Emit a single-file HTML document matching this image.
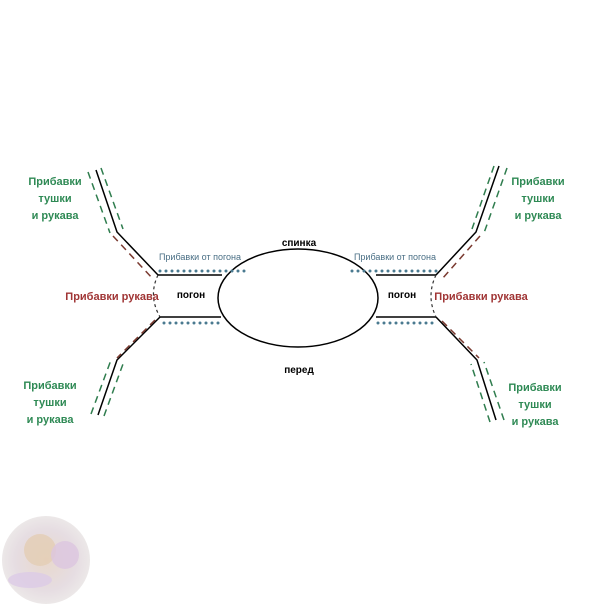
<!DOCTYPE html>
<html><head><meta charset="utf-8"><style>
body{margin:0;background:#fff}
svg{display:block}
text{font-family:"Liberation Sans",sans-serif;font-weight:bold;text-anchor:middle}
</style></head><body>
<svg width="604" height="604" viewBox="0 0 604 604">
<defs><radialGradient id="g" cx="0.5" cy="0.5" r="0.5">
<stop offset="0" stop-color="#e8d8cc"/><stop offset="0.7" stop-color="#e6dde2"/><stop offset="1" stop-color="#ece8e8"/></radialGradient></defs>
<circle cx="46" cy="560" r="44" fill="url(#g)"/>
<circle cx="40" cy="550" r="16" fill="#e3cdb4" opacity="0.8"/>
<circle cx="65" cy="555" r="14" fill="#dcc6e0" opacity="0.8"/>
<ellipse cx="30" cy="580" rx="22" ry="8" fill="#dccbe6" opacity="0.8"/>
<ellipse cx="298" cy="298" rx="80" ry="49" fill="none" stroke="#000" stroke-width="1.5"/>
<g stroke="#000" stroke-width="1.5" fill="none">
<line x1="158" y1="275" x2="222" y2="275"/>
<line x1="160" y1="317" x2="221" y2="317"/>
<line x1="376" y1="275" x2="436" y2="275"/>
<line x1="376" y1="317" x2="436" y2="317"/>
<polyline points="96,170 117,232 158,275"/>
<polyline points="160,317 117,360 98,415"/>
<polyline points="499,166 476,232 436,275"/>
<polyline points="436,317 477,360 496,420"/>
</g>
<g stroke="#333" stroke-width="1.2" fill="none" stroke-dasharray="3,3">
<path d="M158 275 Q148 296 160 317"/>
<path d="M436 275 Q426 296 436 317"/>
</g>
<g stroke="#4a7a90" stroke-width="3" stroke-dasharray="0,6" stroke-linecap="round" fill="none">
<line x1="160" y1="271" x2="245" y2="271"/>
<line x1="164" y1="323" x2="220" y2="323"/>
<line x1="352" y1="271" x2="437" y2="271"/>
<line x1="378" y1="323" x2="437" y2="323"/>
</g>
<g stroke="#2f7d4e" stroke-width="1.5" stroke-dasharray="7,5" fill="none">
<line x1="88" y1="172" x2="110" y2="233"/>
<line x1="101" y1="168" x2="123" y2="229"/>
<line x1="91" y1="414" x2="111" y2="360"/>
<line x1="104" y1="416" x2="123" y2="364"/>
<line x1="507" y1="168" x2="484" y2="233"/>
<line x1="494" y1="166" x2="472" y2="229"/>
<line x1="504" y1="420" x2="484" y2="362"/>
<line x1="490" y1="422" x2="471" y2="364"/>
</g>
<g stroke="#7a3a30" stroke-width="1.5" stroke-dasharray="7,5" fill="none">
<line x1="113" y1="236" x2="153" y2="279"/>
<line x1="155" y1="320" x2="117" y2="358"/>
<line x1="480" y1="236" x2="442" y2="279"/>
<line x1="442" y1="321" x2="479" y2="358"/>
</g>
<g fill="#2f8a55" font-size="11">
<text x="55" y="185">Прибавки</text><text x="55" y="202">тушки</text><text x="55" y="219">и рукава</text>
<text x="538" y="185">Прибавки</text><text x="538" y="202">тушки</text><text x="538" y="219">и рукава</text>
<text x="50" y="389">Прибавки</text><text x="50" y="406">тушки</text><text x="50" y="423">и рукава</text>
<text x="535" y="391">Прибавки</text><text x="535" y="408">тушки</text><text x="535" y="425">и рукава</text>
</g>
<g fill="#a03535" font-size="11">
<text x="112" y="300">Прибавки рукава</text>
<text x="481" y="300">Прибавки рукава</text>
</g>
<g fill="#4a6f85" font-size="9">
<text x="200" y="260" style="font-weight:normal">Прибавки от погона</text>
<text x="395" y="260" style="font-weight:normal">Прибавки от погона</text>
</g>
<g fill="#000" font-size="10">
<text x="191" y="298">погон</text>
<text x="402" y="298">погон</text>
<text x="299" y="246">спинка</text>
<text x="299" y="373">перед</text>
</g>
</svg>
</body></html>
